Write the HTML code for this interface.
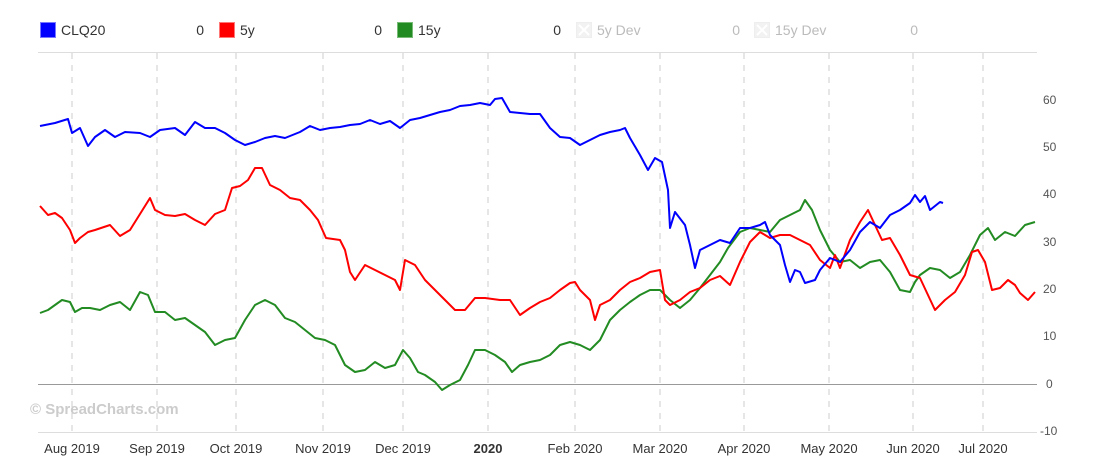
<!DOCTYPE html>
<html><head><style>
body{margin:0;background:#fff;font-family:"Liberation Sans",sans-serif;}
svg text{font-family:"Liberation Sans",sans-serif;}
</style></head><body>
<svg width="1120" height="468" viewBox="0 0 1120 468" xmlns="http://www.w3.org/2000/svg">
<g font-size="14" fill="#333">
<rect x="40.5" y="22.5" width="15" height="15" fill="#00f" stroke="#77f"/><text x="61" y="35">CLQ20</text><text x="204" y="35" text-anchor="end">0</text>
<rect x="219.5" y="22.5" width="15" height="15" fill="#f00" stroke="#f77"/><text x="240" y="35">5y</text><text x="382" y="35" text-anchor="end">0</text>
<rect x="397.5" y="22.5" width="15" height="15" fill="#228b22" stroke="#7b7"/><text x="418" y="35">15y</text><text x="561" y="35" text-anchor="end">0</text>
<g fill="#bbb"><rect x="576.5" y="22.5" width="15" height="15" fill="#f2f2f2" stroke="#eee"/><path d="M579 25l10 10M589 25l-10 10" stroke="#fff" stroke-width="2"/><text x="597" y="35">5y Dev</text><text x="740" y="35" text-anchor="end">0</text>
<rect x="754.5" y="22.5" width="15" height="15" fill="#f2f2f2" stroke="#eee"/><path d="M757 25l10 10M767 25l-10 10" stroke="#fff" stroke-width="2"/><text x="775" y="35">15y Dev</text><text x="918" y="35" text-anchor="end">0</text></g>
</g>
<line x1="38" y1="52.5" x2="1037" y2="52.5" stroke="#ddd"/>
<line x1="38" y1="432.5" x2="1037" y2="432.5" stroke="#ddd"/>
<g stroke="#ccc" stroke-dasharray="6,6">
<line x1="72" y1="53" x2="72" y2="432"/><line x1="157" y1="53" x2="157" y2="432"/><line x1="236" y1="53" x2="236" y2="432"/><line x1="323" y1="53" x2="323" y2="432"/><line x1="403" y1="53" x2="403" y2="432"/><line x1="488" y1="53" x2="488" y2="432"/><line x1="575" y1="53" x2="575" y2="432"/><line x1="660" y1="53" x2="660" y2="432"/><line x1="744" y1="53" x2="744" y2="432"/><line x1="829" y1="53" x2="829" y2="432"/><line x1="913" y1="53" x2="913" y2="432"/><line x1="983" y1="53" x2="983" y2="432"/>
</g>
<line x1="38" y1="384.5" x2="1037" y2="384.5" stroke="#999"/>
<g font-size="12" fill="#555" text-anchor="start">
<text x="1043" y="104">60</text><text x="1043" y="151">50</text><text x="1043" y="198">40</text><text x="1043" y="246">30</text><text x="1043" y="293">20</text><text x="1043" y="340">10</text><text x="1046" y="388">0</text><text x="1040" y="435">-10</text>
</g>
<g font-size="13" fill="#333" text-anchor="middle">
<text x="72" y="453">Aug 2019</text><text x="157" y="453">Sep 2019</text><text x="236" y="453">Oct 2019</text><text x="323" y="453">Nov 2019</text><text x="403" y="453">Dec 2019</text><text x="488" y="453" font-weight="bold">2020</text><text x="575" y="453">Feb 2020</text><text x="660" y="453">Mar 2020</text><text x="744" y="453">Apr 2020</text><text x="829" y="453">May 2020</text><text x="913" y="453">Jun 2020</text><text x="983" y="453">Jul 2020</text>
</g>
<text x="30" y="414" font-size="15" font-weight="bold" fill="#ccc">© SpreadCharts.com</text>
<g fill="none" stroke-width="2" stroke-linejoin="round">
<polyline stroke="#228b22" points="40,313 48,310 55,305 62,300 70,302 75,312 82,308 90,308 100,310 110,305 120,302 130,310 140,292 148,295 155,312 165,312 175,320 185,318 195,325 205,332 215,345 225,340 235,338 245,320 255,305 265,300 275,305 285,318 295,322 305,330 315,338 325,340 335,345 345,365 355,372 365,370 375,362 385,368 395,365 403,350 410,358 418,372 425,375 435,382 442,390 450,385 460,380 468,365 475,350 485,350 495,355 505,362 512,372 520,365 530,362 540,360 550,355 560,345 570,342 580,345 590,350 600,340 610,320 620,310 630,302 640,295 650,290 660,290 670,300 680,308 690,300 700,288 710,275 720,262 728,248 740,232 750,228 760,230 770,232 780,220 790,215 800,210 805,200 812,210 820,230 830,250 840,262 850,260 860,268 870,262 880,260 890,272 900,290 910,292 915,282 920,275 930,268 940,270 950,278 960,272 970,255 980,235 988,228 995,240 1005,232 1015,236 1025,225 1035,222"/>
<polyline stroke="#f00" points="40,206 48,215 55,213 62,218 70,230 75,243 80,238 88,232 95,230 110,225 120,236 130,230 140,214 150,198 155,210 165,215 175,216 185,214 195,220 205,225 215,214 225,210 232,188 240,186 248,180 255,168 262,168 270,185 280,190 290,198 300,200 310,210 318,220 326,238 340,240 345,250 350,272 355,280 365,265 375,270 385,275 395,280 400,290 405,260 415,265 425,280 435,290 445,300 455,310 465,310 475,298 485,298 500,300 510,300 520,315 530,308 540,302 550,298 560,290 570,283 575,282 580,290 585,295 590,300 595,320 600,305 610,300 620,290 630,282 640,278 650,272 660,270 665,300 670,305 680,300 690,292 700,288 710,280 720,276 730,285 740,262 750,242 760,232 770,238 780,235 790,235 800,240 810,245 820,260 830,268 835,255 840,268 850,240 860,222 868,210 875,225 882,240 890,238 900,255 910,275 920,278 935,310 945,300 955,292 965,275 972,252 978,250 985,262 992,290 1000,288 1008,280 1015,285 1020,293 1028,300 1035,292"/>
<polyline stroke="#00f" points="40,126 55,123 68,119 72,133 80,128 88,146 95,137 105,130 115,137 125,132 140,133 150,137 160,130 175,128 185,135 195,122 205,128 215,128 225,133 235,140 245,145 255,142 265,138 275,136 285,138 300,132 310,126 320,130 330,128 340,127 350,125 360,124 370,120 380,124 390,121 400,128 410,120 420,118 430,115 440,112 450,110 460,106 470,105 480,103 490,105 495,99 502,98 510,112 520,113 530,114 540,114 550,128 560,137 570,138 580,145 590,140 600,135 610,132 620,130 625,128 630,138 640,155 648,170 655,158 662,162 668,190 670,228 675,212 685,225 690,245 695,268 700,250 710,245 720,240 730,243 740,228 750,228 760,225 765,222 770,235 780,245 785,265 790,282 795,270 800,272 805,283 815,280 820,270 830,258 840,262 850,250 860,232 870,222 880,228 890,215 900,210 910,203 915,195 920,202 925,196 930,210 940,202 943,203"/>
</g>
</svg>
</body></html>
